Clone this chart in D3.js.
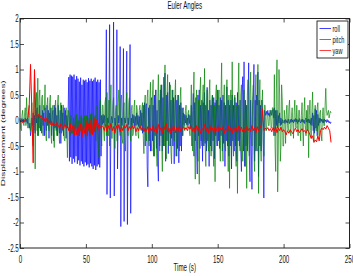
<!DOCTYPE html>
<html>
<head>
<meta charset="utf-8">
<script src="https://cdn.jsdelivr.net/npm/d3@7"></script>
<style>
  body { margin: 0; background: #fff; }
  text { font-family: "Liberation Sans", Arial, sans-serif; fill: #111; }
</style>
</head>
<body>
<script>
const seriesNames = ['roll', 'pitch', 'yaw'];
const seriesColors = ['#0000ff', '#008000', '#ff0000'];
const xTicks = [0, 50, 100, 150, 200, 250];
const yTicks = [-2.5, -2, -1.5, -1, -0.5, 0, 0.5, 1, 1.5, 2];

// roll and pitch are sampled every 0.5 s, yaw every 1 s (from t = 0)
const sampleStep = [0.5, 0.5, 1];

const roll = [
  0.02, -0.03, 0.01, 0.04, -0.02, 0.03, -0.04, 0.0, 0.05, -0.03, 0.02, -0.06, 0.04, -0.08, -0.15, -0.05, -0.3, -0.2, 0.05, -0.1,
  0.15, -0.2, 0.1, -0.25, 0.2, -0.05, 0.25, -0.3, 0.1, -0.15, 0.3, -0.2, 0.05, -0.25, 0.2, -0.1, 0.15, -0.3, 0.25, -0.05,
  -0.2, 0.3, -0.1, 0.2, -0.35, 0.15, -0.05, 0.25, -0.3, 0.1, 0.2, -0.4, 0.3, -0.15, 0.25, -0.2, 0.1, -0.3, 0.3, -0.1,
  -0.25, 0.2, -0.45, 0.3, -0.2, 0.15, -0.3, 0.25, -0.1, 0.2, -0.35, 0.1, -0.15, 0.2, 0.85, -0.8, 0.9, -0.72, 0.88, -0.85,
  0.86, -0.75, 0.9, -0.82, 0.8, -0.7, 0.87, -0.85, 0.82, -0.78, 0.76, -0.88, 0.84, -0.8, 0.7, -0.85, 0.8, -0.9, 0.78, -0.82,
  0.8, -0.88, 0.75, -0.86, 0.83, -0.92, 0.78, -0.84, 0.82, -0.9, 0.77, -0.95, 0.8, -0.88, 0.84, -0.97, 0.76, -0.9, 0.8, -0.86,
  0.75, -0.92, 0.8, -0.7, 0.1, -0.08, 0.12, -0.05, 0.1, -0.1, 0.05, 1.78, -1.45, 0.05, -0.05, 0.1, 1.88, -1.52, 0.0, 0.08,
  -0.05, 0.1, 1.93, -1.48, 0.05, -0.1, 0.08, 1.78, -0.95, 0.1, -0.05, 0.05, 1.45, -2.08, 0.05, -0.1, 0.1, 1.41, -1.98, 0.05,
  -0.05, 0.1, 1.36, -2.04, 0.05, -0.08, 0.1, 1.49, -1.82, 0.05, -0.1, 0.12, -0.05, 0.1, -0.12, 0.08, -0.1, 0.15, -0.08, 0.1,
  -0.12, 0.08, -0.15, 0.2, -0.1, 0.15, -0.25, 0.3, -0.2, 0.35, -0.5, 0.3, 0.33, -0.9, -1.3, 0.25, -0.4, 0.3, -0.6, 0.4,
  0.45, -0.4, 0.3, -0.7, 0.5, -0.3, 0.6, -0.55, 0.2, -0.8, -1.19, 0.4, -0.5, 0.6, -0.3, 0.7, -0.6, 0.45, -0.5, 0.55,
  0.93, -0.8, 0.5, -0.4, 0.55, -0.65, 0.3, 0.75, -0.5, 0.4, -0.35, 0.6, -0.5, 0.45, -0.85, 0.3, 0.5, -0.7, 0.4, -0.55,
  0.5, -0.83, 0.3, -0.5, 0.35, -0.6, 0.25, -0.3, 0.15, -0.1, 0.12, -0.05, 0.1, -0.08, 0.05, -0.1, 0.12, -0.06, 0.1, -0.15,
  0.3, -0.5, 0.2, 0.53, -0.7, 0.35, -0.4, 0.45, -0.6, -1.05, 0.5, -0.3, 0.6, -0.55, 0.3, -0.4, 0.4, -0.8, 0.35, -0.5,
  0.55, -0.45, 0.3, -0.6, 0.65, -0.4, 0.2, -0.9, 0.4, -0.5, 0.3, -0.6, 0.5, -0.4, 0.45, -0.75, 0.35, -0.3, 0.4, -0.5,
  0.6, -0.4, 0.3, -0.55, 0.45, -0.3, 0.4, -0.6, 0.5, -0.45, 0.35, -0.9, 0.3, -0.4, 0.66, -0.5, 0.4, -0.7, 0.3, -0.5,
  0.4, -0.95, 0.5, -0.4, 0.3, -0.6, 0.45, -0.5, 0.35, -0.8, 0.55, -0.4, 0.3, -0.5, 0.4, -0.6, -1.0, 0.5, 0.86, -0.6,
  1.15, -0.9, 0.4, -0.5, 0.3, -0.6, 0.2, 1.13, -0.7, -1.2, 0.4, -0.5, -1.35, 0.3, 0.5, 1.1, -0.8, 0.4, -0.6, 0.5,
  0.3, 0.95, -1.1, 0.4, -0.5, 0.3, -0.6, 0.4, 0.2, -0.3, -1.52, 0.2, 0.15, 0.1, 0.18, 0.12, 0.2, 0.1, 0.15, 0.08,
  0.15, 0.2, 0.1, 0.18, 0.22, 0.05, 0.25, -0.3, 0.2, -0.1, 0.2, -0.15, 0.1, -0.05, 0.15, -0.1, 0.05, -0.08, 0.02, -0.05,
  -0.03, 0.01, -0.06, 0.02, -0.04, 0.0, -0.05, 0.03, -0.02, -0.06, 0.02, -0.04, 0.03, -0.03, 0.01, -0.05, 0.02, -0.02, 0.04, -0.03,
  0.03, -0.06, 0.01, -0.03, 0.04, -0.02, -0.05, 0.02, -0.03, 0.03, -0.04, 0.01, -0.06, 0.02, 0.05, -0.03, 0.02, -0.04, 0.03, -0.05,
  0.02, -0.08, 0.05, -0.1, 0.15, -0.2, 0.1, -0.25, 0.23, -0.15, 0.2, -0.3, 0.12, -0.1, 0.05, -0.05, 0.04, -0.02, 0.03, -0.04,
  0.02, -0.05, 0.03, -0.02, 0.01, -0.04, 0.02, -0.03, 0.0, -0.05, -0.02, -0.06, -0.03
];

const pitch = [
  0.05, -0.15, -0.2, 0.1, 0.2, -0.05, -0.1, 0.15, 0.25, -0.1, 0.45, 0.1, -0.15, 0.2, 0.3, -0.1, -0.2, 0.15, 0.35, -0.3,
  -0.5, 0.2, 0.96, -0.95, 0.1, 0.55, -0.2, 0.83, -0.3, 0.4, 0.6, -0.2, -0.1, 0.45, 0.5, -0.3, 0.3, 0.2, 0.7, -0.25,
  -0.4, 0.3, 0.45, -0.1, -0.2, 0.35, 0.5, -0.3, -0.45, 0.2, 0.3, -0.2, -0.53, 0.25, 0.4, -0.15, -0.3, 0.35, 0.5, -0.2,
  -0.45, 0.2, 0.35, -0.25, -0.2, 0.3, 0.3, -0.35, -0.4, 0.1, 0.25, -0.2, -0.73, 0.2, 0.15, -0.25, -0.3, 0.1, 0.1, -0.2,
  -0.25, 0.05, -0.1, -0.3, 0.1, -0.15, 0.12, -0.2, -0.05, 0.0, -0.3, 0.08, -0.2, 0.1, -0.1, -0.25, 0.05, -0.15, 0.1, -0.3,
  -0.35, 0.1, -0.15, 0.05, -0.2, 0.0, -0.3, 0.12, -0.25, 0.15, -0.1, -0.25, 0.05, -0.2, 0.1, -0.4, -0.1, 0.3, -0.2, -0.5,
  -0.73, 0.2, 0.4, -0.3, -0.5, 0.3, 0.3, -0.2, -0.4, 0.35, 0.45, -0.3, 0.55, -0.2, -0.3, 0.4, -0.5, 0.25, 0.7, -0.35,
  -0.35, 0.3, 0.45, -0.25, -0.55, 0.2, 0.3, -0.4, -0.4, 0.35, 0.6, -0.2, -0.3, 0.4, 0.5, -0.35, -0.45, 0.25, 0.35, -0.3,
  -0.6, 0.3, 0.55, -0.2, -0.3, 0.35, 0.45, -0.25, -0.4, 0.2, 0.3, -0.3, -0.25, 0.25, 0.4, -0.2, -0.3, 0.3, 0.2, -0.25,
  -0.35, 0.2, 0.3, -0.15, -0.2, 0.25, 0.35, -0.3, -0.65, 0.3, 0.5, -0.2, -0.4, 0.45, 0.6, -0.3, -0.5, 0.4, 0.75, -0.4,
  -0.6, 0.5, 0.8, -0.4, -0.7, 0.3, 0.6, -0.5, -0.9, 0.4, 0.9, -0.3, -0.6, 0.5, 0.7, -0.45, -1.0, 0.3, 0.85, -0.5,
  1.09, -0.6, -0.75, 0.5, 0.9, -0.3, -0.5, 0.4, 0.7, -0.6, -0.85, 0.3, 0.6, -0.2, -0.4, 0.5, 0.8, -0.4, -0.7, 0.3,
  0.5, -0.3, -0.6, 0.4, 0.65, -0.2, -0.3, 0.2, 0.25, -0.15, -0.2, 0.2, 0.3, -0.1, -0.15, 0.15, 0.2, -0.2, -0.3, 0.1,
  0.7, -0.3, -0.6, 0.5, 0.95, -0.5, -1.15, 0.3, 0.6, -0.4, -0.8, 0.4, -1.25, 0.5, 0.85, -0.3, -0.5, 0.4, 0.7, -0.4,
  1.02, -0.5, -0.9, 0.3, 0.6, -0.4, -0.6, 0.5, 0.8, -0.3, -0.7, 0.4, 0.5, -0.5, -0.9, 0.3, -1.2, 0.5, 0.7, -0.4,
  -0.5, 0.4, 0.6, -0.3, -0.8, 0.5, 1.13, -0.4, -0.8, 0.3, 0.7, -0.5, -0.6, 0.4, 0.8, -0.3, -1.0, 0.5, -1.33, 0.4,
  0.6, -0.5, 1.15, -0.3, -0.7, 0.4, 0.5, -0.6, -0.9, 0.3, -1.43, 0.5, 1.13, -0.4, -0.6, 0.5, 0.7, -0.3, -0.8, 0.4,
  0.6, -0.5, -0.9, 0.3, -1.33, 0.5, 0.8, -0.4, -0.7, 0.5, 0.95, -0.3, -0.5, 0.4, 0.7, -0.6, -1.0, 0.4, 0.9, -0.5,
  -0.6, 1.1, -1.43, 0.4, 0.8, -0.5, -0.8, 0.3, 0.6, -0.4, -0.7, 0.3, 0.3, -0.2, -0.2, 0.15, 0.15, -0.1, -0.1, 0.2,
  0.2, -0.15, -0.15, 0.25, 0.25, -0.3, 0.9, -0.5, -1.0, 0.6, 1.19, -1.4, -0.6, 1.0, 0.5, -0.8, -0.5, 0.7, 0.4, -0.5,
  -0.5, 0.2, 0.05, -0.45, 0.1, 0.3, -0.1, -0.2, 0.25, 0.4, -0.15, -0.3, 0.1, 0.25, -0.05, -0.35, 0.15, 0.4, -0.1, -0.15,
  0.3, -0.1, -0.3, 0.2, 0.2, -0.15, -0.4, 0.1, 0.35, -0.2, -0.5, 0.15, 0.45, -0.1, -0.3, 0.2, -0.2, 0.3, -0.73, 0.1,
  0.4, -0.2, -0.35, 0.2, 0.56, -0.1, -0.4, 0.15, 0.3, -0.2, -0.2, 0.25, 0.35, -0.1, -0.3, 0.15, 0.2, -0.25, -0.4, 0.1,
  0.25, -0.1, -0.1, 0.3, 0.63, 0.2, 0.1, 0.15, 0.2, 0.05, 0.12, 0.18, 0.15
];

const yaw = [
  -0.03, -0.02, -0.04, -0.01, 0.0, 0.02, 0.05, 0.3, 1.1, 0.2,
  -0.83, 1.0, 0.1, 0.08, 0.12, 0.05, 0.1, 0.02, 0.06, -0.02,
  0.04, -0.05, 0.0, -0.08, -0.02, -0.1, -0.05, -0.12, -0.04, -0.1,
  -0.15, -0.06, -0.12, -0.18, -0.08, -0.14, -0.1, -0.2, -0.05, -0.25,
  -0.1, -0.3, -0.08, -0.28, -0.12, -0.3, -0.05, -0.32, -0.1, -0.25,
  0.0, -0.3, -0.05, -0.25, 0.03, -0.28, 0.06, -0.22, 0.02, -0.2,
  -0.05, -0.15, -0.1, -0.12, -0.2, -0.08, -0.22, -0.1, -0.18, -0.05,
  -0.2, -0.12, -0.25, -0.1, -0.18, -0.08, -0.22, -0.12, -0.2, -0.1,
  -0.15, -0.08, -0.2, -0.12, -0.18, -0.1, -0.16, -0.12, -0.22, -0.14,
  -0.2, -0.1, -0.18, -0.13, -0.22, -0.15, -0.2, -0.12, -0.25, -0.15,
  -0.2, -0.1, -0.22, -0.12, -0.25, -0.08, -0.2, -0.14, -0.24, -0.1,
  -0.18, -0.05, -0.22, -0.15, -0.26, -0.1, -0.2, -0.12, -0.24, -0.14,
  -0.2, -0.1, -0.22, -0.16, -0.12, -0.18, -0.14, -0.2, -0.12, -0.17,
  -0.1, -0.22, -0.14, -0.25, -0.1, -0.2, -0.12, -0.26, -0.15, -0.2,
  -0.08, -0.22, -0.13, -0.24, -0.1, -0.2, -0.15, -0.25, -0.12, -0.2,
  -0.1, -0.22, -0.15, -0.2, -0.12, -0.25, -0.15, -0.2, -0.1, -0.22,
  -0.14, -0.26, -0.12, -0.2, -0.15, -0.24, -0.1, -0.2, -0.13, -0.22,
  -0.16, -0.24, -0.12, -0.2, -0.15, -0.22, -0.1, -0.2, -0.14, -0.24,
  -0.12, -0.2, -0.15, -0.1, 0.23, -0.2, -0.15, -0.18, -0.14, -0.2,
  -0.16, -0.22, -0.14, -0.2, -0.12, -0.24, -0.15, -0.2, -0.13, -0.22,
  -0.18, -0.22, -0.28, -0.2, -0.25, -0.18, -0.22, -0.26, -0.2, -0.15,
  -0.22, -0.18, -0.24, -0.2, -0.16, -0.22, -0.2, -0.25, -0.18, -0.22,
  -0.28, -0.35, -0.3, -0.43, -0.38, -0.42, -0.3, -0.4, -0.2, -0.15,
  -0.18, -0.13, -0.17, -0.1, -0.15, -0.2, -0.43
];

const margin = { top: 18.5, right: 3.5, bottom: 28, left: 20 };
const W = 353, H = 276;
const width = W - margin.left - margin.right;
const height = H - margin.top - margin.bottom;
const squeeze = 0.62;   // the text in the picture is narrow

const svg = d3.select('body').append('svg')
  .attr('width', W)
  .attr('height', H);

const g = svg.append('g')
  .attr('transform', `translate(${margin.left}, ${margin.top})`);

const x = d3.scaleLinear().domain([0, 250]).range([0, width]);
const y = d3.scaleLinear().domain([-2.5, 2]).range([height, 0]);

// data lines, drawn in order so yaw ends up on top
[roll, pitch, yaw].forEach((vals, k) => {
  const line = d3.line()
    .x((d, i) => x(i * sampleStep[k]))
    .y(d => y(d));
  g.append('path')
    .datum(vals)
    .attr('fill', 'none')
    .attr('stroke', seriesColors[k])
    .attr('stroke-width', k === 2 ? 1 : 0.65)
    .attr('stroke-linejoin', 'miter')
    .attr('d', line);
});

// axes, MATLAB style: ticks inward on all four sides
function styleAxis(sel) {
  sel.select('.domain').remove();
  sel.selectAll('line').attr('stroke', '#222').attr('stroke-width', 0.8);
  sel.selectAll('text')
    .attr('font-size', 10)
    .attr('font-family', '"Liberation Sans", Arial, sans-serif');
}

g.append('g')
  .attr('transform', `translate(0, ${height})`)
  .call(d3.axisBottom(x).tickValues(xTicks).tickSize(-4).tickPadding(8).tickFormat(d3.format('d')))
  .call(styleAxis)
  .call(s => s.selectAll('text').attr('transform', `scale(${squeeze},1)`));

g.append('g')
  .call(d3.axisTop(x).tickValues(xTicks).tickSize(-4).tickFormat(''))
  .call(styleAxis);

g.append('g')
  .call(d3.axisLeft(y).tickValues(yTicks).tickSize(-4).tickPadding(2).tickFormat(d => String(d)))
  .call(styleAxis)
  .call(s => s.selectAll('text').attr('transform', `scale(${squeeze},1)`));

g.append('g')
  .attr('transform', `translate(${width}, 0)`)
  .call(d3.axisRight(y).tickValues(yTicks).tickSize(-4).tickFormat(''))
  .call(styleAxis);

g.append('rect')
  .attr('width', width)
  .attr('height', height)
  .attr('fill', 'none')
  .attr('stroke', '#222')
  .attr('stroke-width', 1);

// titles
svg.append('text')
  .attr('transform', `translate(${margin.left + width / 2}, 8.5) scale(${squeeze},1)`)
  .attr('text-anchor', 'middle')
  .attr('font-size', 10)
  .text('Euler Angles');

svg.append('text')
  .attr('transform', `translate(${margin.left + width / 2}, 271) scale(${squeeze},1)`)
  .attr('text-anchor', 'middle')
  .attr('font-size', 10)
  .text('Time (s)');

svg.append('text')
  .attr('transform', `translate(5, ${margin.top + height / 2}) rotate(-90) scale(1,${squeeze})`)
  .attr('text-anchor', 'middle')
  .attr('font-size', 10)
  .text('Displacement (degrees)');

// legend
const legend = svg.append('g').attr('transform', 'translate(317, 21)');
legend.append('rect')
  .attr('width', 31)
  .attr('height', 37)
  .attr('fill', '#fff')
  .attr('stroke', '#000')
  .attr('stroke-width', 0.8);

seriesNames.forEach((name, k) => {
  const ly = 7.5 + k * 11;
  legend.append('line')
    .attr('x1', 2.5).attr('x2', 14)
    .attr('y1', ly).attr('y2', ly)
    .attr('stroke', seriesColors[k])
    .attr('stroke-width', 0.75);
  legend.append('text')
    .attr('transform', `translate(15.5, ${ly + 3}) scale(${squeeze},1)`)
    .attr('font-size', 9)
    .text(name);
});
</script>
</body>
</html>
